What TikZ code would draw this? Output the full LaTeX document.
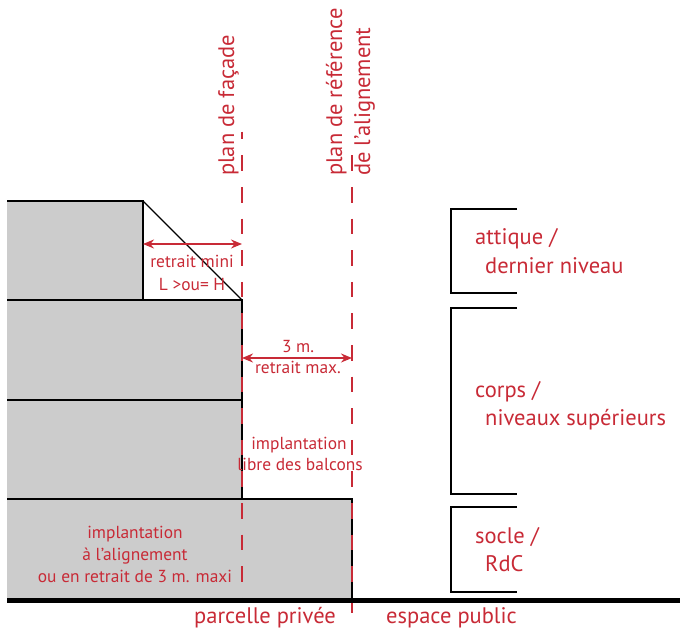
\documentclass[tikz,border=0pt]{standalone}
\usepackage{fontspec}
\setmainfont{PT Sans}
\usetikzlibrary{arrows.meta}
\definecolor{rd}{RGB}{200,42,54}
\definecolor{gy}{RGB}{204,204,204}
\tikzset{
 wall/.style={draw=black,line width=2.7pt},
 plane/.style={draw=rd,line width=2.8pt,dash pattern=on 15.5pt off 16.1pt},
 dim/.style={draw=rd,line width=1.6pt,{Stealth[length=11pt,width=9pt]}-{Stealth[length=11pt,width=9pt]}},
 small/.style={text=rd,font=\fontsize{17.4}{20}\selectfont,inner sep=0pt,anchor=base},
 big/.style={text=rd,font=\fontsize{22.5}{25}\selectfont,inner sep=0pt,anchor=base west},
}
\begin{document}
\begin{tikzpicture}[x=1pt,y=-1pt]
\useasboundingbox (0,0) rectangle (680,629);
\fill[gy] (7,201) rectangle (143,300);
\fill[gy] (7,300) rectangle (242,499);
\fill[gy] (7,499) rectangle (352,600);
\coordinate (g0) at (7,600);\coordinate (g1) at (680,600);
\draw[wall] (7,201) -- (143,201) -- (143,300);
\draw[wall] (7,300) -- (242,300) -- (242,499);
\draw[wall] (7,400) -- (242,400);
\draw[wall] (7,499) -- (352,499) -- (352,600);
\draw[draw=black,line width=1.4pt] (143,201) -- (242,300);
\draw[plane,dash phase=7.7pt] (242,131.5) -- (242,600);
\draw[plane] (352,155.4) -- (352,613);
\draw[black,line width=5pt] (g0) -- (g1);
\coordinate (a1) at (143,244);\coordinate (a2) at (242,244);
\draw[dim] (a1) -- (a2);
\coordinate (b1) at (242,358);\coordinate (b2) at (352,358);
\draw[dim] (b1) -- (b2);
\draw[wall] (517,209) -- (451,209) -- (451,293) -- (517,293);
\draw[wall] (517,308) -- (451,308) -- (451,494) -- (517,494);
\draw[wall] (517,507) -- (451,507) -- (451,592) -- (517,592);
\node[small] (t1) at (192,267) {retrait mini};
\node[small] (t2) at (192,290) {L >ou= H};
\node[small] (t3) at (298,352) {3 m.};
\node[small] (t4) at (298,373) {retrait max.};
\node[small] (t5) at (299,449) {implantation};
\node[small] (t6) at (300,470) {libre des balcons};
\node[small] (t7) at (135,538) {implantation};
\node[small] (t8) at (135,560) {à l’alignement};
\node[small] (t9) at (135,582) {ou en retrait de 3 m. maxi};
\node[big,rotate=90] (p1) at (234,176) {plan de façade};
\node[big,rotate=90] (p2) at (342,176) {plan de référence};
\node[big,rotate=90] (p3) at (370,176) {de l’alignement};
\node[big] (r1) at (475,244) {attique /};
\node[big] (r2) at (485,273) {dernier niveau};
\node[big] (r3) at (475,397) {corps /};
\node[big] (r4) at (485,425) {niveaux supérieurs};
\node[big] (r5) at (475,543) {socle /};
\node[big] (r6) at (485,571) {RdC};
\node[big] (g2) at (194,623) {parcelle privée};
\node[big] (g3) at (386,623) {espace public};
\end{tikzpicture}
\end{document}
